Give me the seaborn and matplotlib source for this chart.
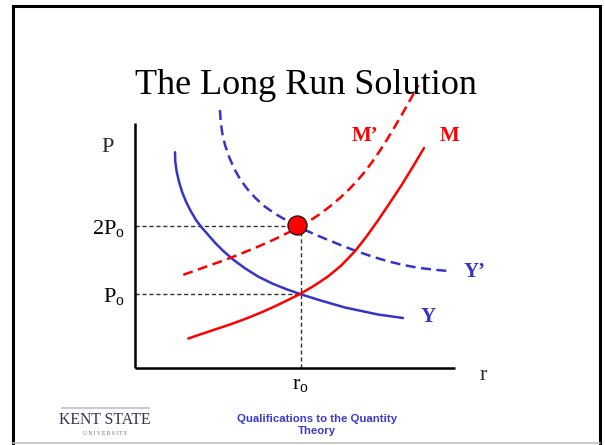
import matplotlib
matplotlib.use("Agg")
import matplotlib.pyplot as plt
from matplotlib.lines import Line2D
import pandas as pd
import seaborn as sns

# Output curves Y, Y' and money curves M, M' as (r, P) in chart units
y_r = [1.250, 1.259, 1.303, 1.375, 1.469, 1.594, 1.741, 1.906, 2.084, 2.291,
       2.500, 2.759, 3.072, 3.438, 3.853, 4.322, 4.741, 5.156, 5.781, 6.563,
       7.594, 8.375]
y_p = [8.804, 8.420, 8.012, 7.604, 7.196, 6.788, 6.408, 6.041, 5.735, 5.429,
       5.114, 4.776, 4.421, 4.069, 3.727, 3.429, 3.212, 3.020, 2.763, 2.469,
       2.184, 2.041]

y2_r = [2.656, 2.678, 2.728, 2.813, 2.938, 3.094, 3.281, 3.509, 3.772, 4.063,
        4.375, 4.741, 5.053, 5.313, 5.625, 6.041, 6.459, 6.928, 7.397, 7.916,
        8.384, 8.853, 9.322, 9.791]
y2_p = [10.531, 10.053, 9.580, 9.102, 8.624, 8.151, 7.714, 7.306, 6.927, 6.584,
        6.298, 6.020, 5.808, 5.633, 5.449, 5.224, 5.000, 4.767, 4.555, 4.351,
        4.204, 4.090, 4.016, 3.959]

m_r = [1.666, 2.031, 2.500, 2.969, 3.438, 3.906, 4.375, 4.781, 5.156, 5.594,
       6.031, 6.438, 6.875, 7.219, 7.594, 7.969, 8.344, 8.688, 9.031]
m_p = [1.204, 1.367, 1.571, 1.776, 2.000, 2.245, 2.518, 2.776, 3.020, 3.355,
       3.735, 4.176, 4.767, 5.339, 6.024, 6.751, 7.494, 8.224, 8.980]

m2_r = [1.509, 1.906, 2.344, 2.719, 3.063, 3.469, 3.906, 4.375, 4.844, 5.063,
        5.469, 5.781, 6.094, 6.406, 6.719, 6.969, 7.188, 7.406, 7.656, 7.906,
        8.125, 8.375, 8.594, 8.859]
m2_p = [3.804, 3.988, 4.192, 4.367, 4.535, 4.751, 4.988, 5.261, 5.563, 5.714,
        6.016, 6.286, 6.596, 6.943, 7.331, 7.678, 8.020, 8.400, 8.873, 9.388,
        9.861, 10.424, 10.931, 11.555]

# Equilibrium levels
r0 = 5.18
p0 = 3.02
p1 = 5.80
dot_r, dot_p = 5.05, 5.82

tick_labels_p = [r"$\mathregular{P_o}$", r"$\mathregular{2P_o}$"]
tick_label_r = r"$\mathregular{r_o}$"

BLUE = "#3434C8"
RED = "#FF0000"

sns.set_style("white")
plt.rcParams["font.family"] = ["Liberation Serif", "DejaVu Serif"]
plt.rcParams["mathtext.fontset"] = "custom"
plt.rcParams["mathtext.rm"] = "Liberation Serif"
plt.rcParams["mathtext.it"] = "Liberation Serif:italic"

W, H = 605, 445
fig = plt.figure(figsize=(W / 100, H / 100), dpi=100)
fig.patch.set_facecolor("white")

ax = fig.add_axes([135 / W, (H - 368) / H, 320 / W, 245 / H])
ax.set_facecolor("white")
ax.set_xlim(0, 10)
ax.set_ylim(0, 10)
sns.despine(ax=ax)
for side in ("left", "bottom"):
    ax.spines[side].set_color("black")
    ax.spines[side].set_linewidth(1.8)
    ax.spines[side].set_capstyle("butt")

# Dashed guide lines to the axes
guide = dict(color="#333333", lw=1.0, ls=(0, (3, 2)), zorder=2)
ax.plot([0, dot_r], [p1, p1], **guide)
ax.plot([r0, r0], [0, p1], **guide)
ax.plot([0, r0], [p0, p0], **guide)

curves = [
    (y_r, y_p, BLUE, "-"),
    (y2_r, y2_p, BLUE, (0, (4, 2.2))),
    (m_r, m_p, RED, "-"),
    (m2_r, m2_p, RED, (0, (4, 2.2))),
]
for xs, ys, col, style in curves:
    df = pd.DataFrame({"r": xs, "P": ys})
    n_before = len(ax.lines)
    sns.lineplot(data=df, x="r", y="P", sort=False, estimator=None,
                 color=col, lw=1.8, ax=ax, zorder=3)
    for ln in ax.lines[n_before:]:
        ln.set_linestyle(style)
        ln.set_clip_on(False)
        ln.set_solid_joinstyle("round")
        ln.set_dash_joinstyle("round")

sns.scatterplot(x=[dot_r], y=[dot_p], s=190, color=RED,
                edgecolor="black", linewidth=0.8, ax=ax, zorder=5)
for coll in ax.collections:
    coll.set_clip_on(False)

ax.set_xlabel("")
ax.set_ylabel("")
ax.set_yticks([p0, p1], labels=tick_labels_p)
ax.set_xticks([r0], labels=[tick_label_r])
ax.tick_params(axis="both", length=0, labelsize=16, colors="black")
ax.tick_params(axis="y", pad=7)
ax.tick_params(axis="x", pad=5)

ax.text(-0.87, 8.98, "P", fontsize=16, ha="center", va="center")
ax.text(10.88, -0.29, "r", fontsize=16, ha="center", va="center")

lab = dict(fontsize=15, fontweight="bold", ha="center", va="center")
ax.text(7.19, 9.48, "M\u2019", color=RED, **lab)
ax.text(9.84, 9.48, "M", color=RED, **lab)
ax.text(10.6, 3.90, "Y\u2019", color=BLUE, **lab)
ax.text(9.16, 2.10, "Y", color=BLUE, **lab)

# Title
fig.text(306 / W, 1 - 94 / H, "The Long Run Solution", fontsize=26,
         ha="center", va="baseline", color="black")

# Footer
fig.text(317 / W, 1 - 425 / H, "Qualifications to the Quantity\nTheory",
         family=["Liberation Sans", "DejaVu Sans"], fontweight="bold",
         fontsize=8.2, color="#3b3bd0", ha="center", va="center",
         linespacing=1.2)
fig.text(105 / W, 1 - 420 / H, "KENT STATE", fontsize=11.3,
         color="#34344e", ha="center", va="center")
fig.text(105 / W, 1 - 433.5 / H, "U N I V E R S I T Y", fontsize=4,
         color="#6a6a80", ha="center", va="center")
fig.add_artist(Line2D([62 / W, 149 / W], [1 - 408 / H, 1 - 408 / H],
                      color="#c8cad8", lw=1.5))

# Slide frame
def fx(px):
    return px / W

def fy(py):
    return 1 - py / H

frame = dict(color="black", lw=2.2, solid_capstyle="projecting")
fig.add_artist(Line2D([fx(12.5), fx(12.5)], [fy(6), fy(443)], **frame))
fig.add_artist(Line2D([fx(12.5), fx(600)], [fy(6), fy(6)], **frame))
fig.add_artist(Line2D([fx(600), fx(600)], [fy(6), fy(443)], **frame))
fig.add_artist(Line2D([fx(12.5), fx(600)], [fy(443), fy(443)],
                      color="#c0c0c0", lw=1.2))

fig.savefig("out.png", dpi=100, facecolor="white")
